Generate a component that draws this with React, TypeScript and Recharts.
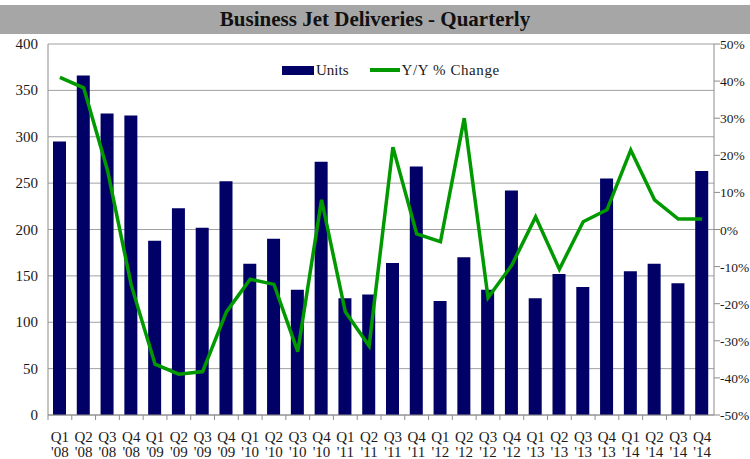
import { ComposedChart, Bar, Line, XAxis, YAxis, CartesianGrid } from "recharts";

const quarters = ["Q1", "Q2", "Q3", "Q4", "Q1", "Q2", "Q3", "Q4", "Q1", "Q2", "Q3", "Q4", "Q1", "Q2", "Q3", "Q4", "Q1", "Q2", "Q3", "Q4", "Q1", "Q2", "Q3", "Q4", "Q1", "Q2", "Q3", "Q4"];
const years = ["'08", "'08", "'08", "'08", "'09", "'09", "'09", "'09", "'10", "'10", "'10", "'10", "'11", "'11", "'11", "'11", "'12", "'12", "'12", "'12", "'13", "'13", "'13", "'13", "'14", "'14", "'14", "'14"];
const units = [295, 366, 325, 323, 188, 223, 202, 252, 163, 190, 135, 273, 126, 130, 164, 268, 123, 170, 135, 242, 126, 152, 138, 255, 155, 163, 142, 263];
const yoyChange = [41, 38.2, 16, -15, -36.3, -39, -38.3, -22.2, -13.4, -14.8, -32.9, 8, -22.2, -31.4, 22.2, -1.2, -3.3, 30, -18.4, -9.6, 3.4, -10.7, 2.1, 5.3, 21.4, 8, 2.8, 2.8];
const leftTicks = [0, 50, 100, 150, 200, 250, 300, 350, 400];
const rightTicks = [-50, -40, -30, -20, -10, 0, 10, 20, 30, 40, 50];

const data = units.map((u, i) => ({
    label: `${quarters[i]}|${years[i]}`,
    units: u,
    yoy: yoyChange[i],
}));

const FONT = "Liberation Serif";
const W = 750;
const H = 459;
const PLOT_LEFT = 48;
const PLOT_RIGHT = 714;
const BAND = (PLOT_RIGHT - PLOT_LEFT) / units.length;
const textStyle = { fontFamily: FONT, fontSize: 15, fill: "#1a1a1a" };

function XTick(props: any) {
    const { x, payload } = props;
    const [q, yr] = String(payload.value).split("|");
    const left = x - BAND / 2;
    return (
        <g>
            <line x1={left} y1={415} x2={left} y2={420} stroke="#8c8c8c" />
            <text x={x} y={442} textAnchor="middle" style={textStyle}>{q}</text>
            <text x={x} y={457} textAnchor="middle" style={textStyle}>{yr}</text>
        </g>
    );
}

function LeftTick(props: any) {
    const { x, y, payload } = props;
    return <text x={x} y={y + 5} textAnchor="end" style={textStyle}>{payload.value}</text>;
}

function RightTick(props: any) {
    const { x, y, payload } = props;
    return <text x={x - 1} y={y + 5} textAnchor="start" style={{ ...textStyle, fontSize: 13.5 }}>{`${payload.value}%`}</text>;
}

export default function App() {
    return (
        <div style={{ position: "absolute", left: 0, top: 0, width: W, height: H, background: "#fff", overflow: "hidden" }}>
            <div style={{ position: "absolute", left: 0, top: 5, width: W, height: 29, background: "#a6a6a6", textAlign: "center", fontFamily: FONT, fontWeight: "bold", fontSize: 21, lineHeight: "29px", color: "#111" }}>
                Business Jet Deliveries - Quarterly
            </div>
            <ComposedChart width={W} height={H} data={data} margin={{ top: 44, right: 0, left: 0, bottom: 0 }} style={{ position: "absolute", left: 0, top: 0 }}>
                <CartesianGrid vertical={false} stroke="#a0a0a0" yAxisId="left" />
                <XAxis dataKey="label" interval={0} height={44} tick={<XTick />} tickLine={false} axisLine={{ stroke: "#8c8c8c" }} />
                <YAxis yAxisId="left" domain={[0, 400]} ticks={leftTicks} width={48} tickLine={false} tickMargin={4} axisLine={{ stroke: "#8c8c8c" }} tick={<LeftTick />} />
                <YAxis yAxisId="right" orientation="right" domain={[-50, 50]} ticks={rightTicks} width={36} tickSize={6} tickMargin={1} tickLine={{ stroke: "#8c8c8c" }} axisLine={{ stroke: "#8c8c8c" }} tick={<RightTick />} />
                <Bar yAxisId="left" dataKey="units" name="Units" fill="#000066" barSize={13} isAnimationActive={false} />
                <Line yAxisId="right" dataKey="yoy" name="Y/Y % Change" type="linear" stroke="#009900" strokeWidth={3.5} dot={false} isAnimationActive={false} />
            </ComposedChart>
            <div style={{ position: "absolute", left: 282, top: 60, fontFamily: FONT, fontSize: 15, color: "#1a1a1a", display: "flex", alignItems: "center", lineHeight: "20px" }}>
                <span style={{ display: "inline-block", width: 32, height: 9, background: "#000066", marginRight: 2 }} />
                <span style={{ marginRight: 21 }}>Units</span>
                <span style={{ display: "inline-block", width: 30, height: 3.5, background: "#009900", marginRight: 2 }} />
                <span style={{ letterSpacing: 0.6 }}>Y/Y % Change</span>
            </div>
        </div>
    );
}
